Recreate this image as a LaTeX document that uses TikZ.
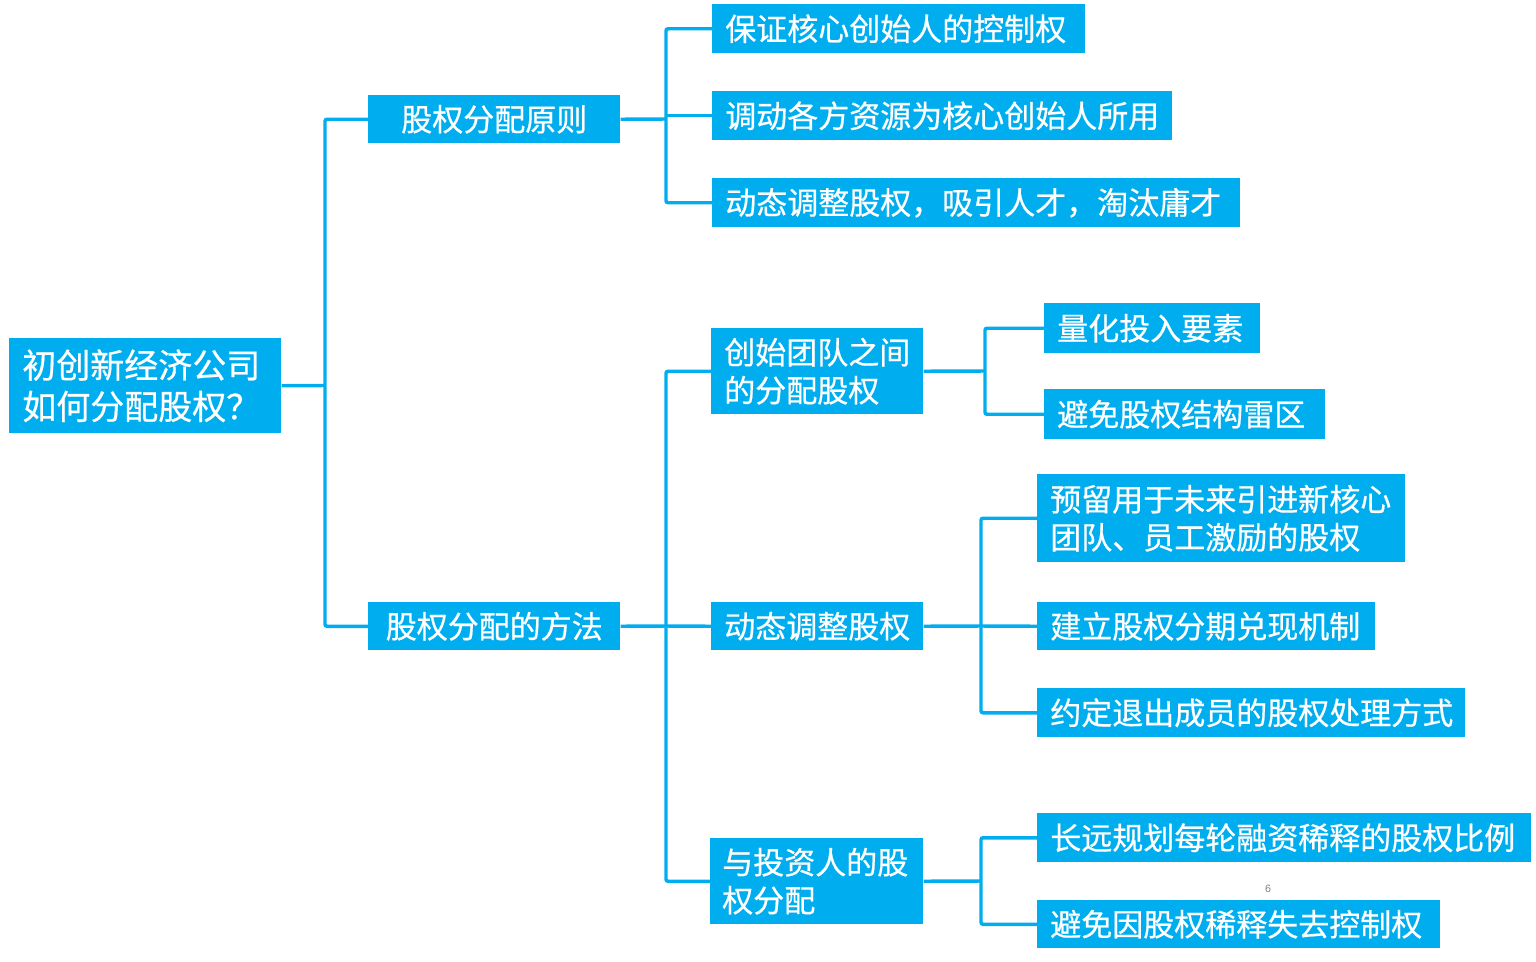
\documentclass[tikz,border=0pt]{standalone}
\usepackage{fontspec}
\setmainfont{Noto Sans CJK SC}[FakeBold=0.6]
\setsansfont{Liberation Sans}
\definecolor{cyanbox}{HTML}{00AEEF}
\newdimen\pxu
\pxu=0.75pt
\begin{document}
\begin{tikzpicture}[x=0.75pt,y=-0.75pt,
  box/.style={fill=cyanbox, text=white, inner xsep=13\pxu, inner ysep=0pt,
    anchor=north west, font=\fontsize{23.25}{28.5}\selectfont, align=left},
  conn/.style={draw=cyanbox, line width=2.6pt, rounded corners=1.5pt}]
\useasboundingbox (0,0) rectangle (1536,962);

% root
\node[box, text width=246\pxu, minimum height=95\pxu, font=\fontsize{25.5}{31}\selectfont] (root) at (9,338) {初创新经济公司\\如何分配股权？};

% level 1
\node[box, align=center, text width=226\pxu, minimum height=48\pxu] (p1) at (368,95) {股权分配原则};
\node[box, align=center, text width=226\pxu, minimum height=48\pxu] (p2) at (368,602) {股权分配的方法};

% level 2 under p1
\node[box, text width=347\pxu, minimum height=49\pxu] (a1) at (712,4) {保证核心创始人的控制权};
\node[box, text width=434\pxu, minimum height=49\pxu] (a2) at (712,91) {调动各方资源为核心创始人所用};
\node[box, text width=502\pxu, minimum height=49\pxu] (a3) at (712,178) {动态调整股权，吸引人才，淘汰庸才};

% level 2 under p2
\node[box, text width=186\pxu, minimum height=86\pxu] (b1) at (711,328) {创始团队之间\\的分配股权};
\node[box, text width=186\pxu, minimum height=48\pxu] (b2) at (711,602) {动态调整股权};
\node[box, inner xsep=12\pxu, text width=189\pxu, minimum height=86\pxu] (b3) at (710,838) {与投资人的股\\权分配};

% level 3
\node[box, text width=190\pxu, minimum height=50\pxu] (c1) at (1044,303) {量化投入要素};
\node[box, text width=255\pxu, minimum height=50\pxu] (c2) at (1044,389) {避免股权结构雷区};

\node[box, text width=342\pxu, minimum height=88\pxu] (d1) at (1037,474) {预留用于未来引进新核心\\团队、员工激励的股权};
\node[box, text width=312\pxu, minimum height=48\pxu] (d2) at (1037,602) {建立股权分期兑现机制};
\node[box, text width=402\pxu, minimum height=49\pxu] (d3) at (1037,688) {约定退出成员的股权处理方式};

\node[box, text width=468\pxu, minimum height=49\pxu] (e1) at (1037,813) {长远规划每轮融资稀释的股权比例};
\node[box, text width=377\pxu, minimum height=48\pxu] (e2) at (1037,900) {避免因股权稀释失去控制权};

% page number
\node[font=\sffamily\fontsize{8}{8}\selectfont, text=gray] (pg) at (1268,889) {6};

% junctions
\coordinate (j0) at (325,385.5);
\coordinate (j1) at (666,119);
\coordinate (j2) at (666,626);
\coordinate (j3) at (985,371);
\coordinate (j4) at (981,626);
\coordinate (j5) at (981,881);

% connectors
\draw[conn] (root.east) -- (j0);
\draw[conn] (p1.west) -| (j0) |- (p2.west);

\draw[conn] (p1.east) -- (j1);
\draw[conn] (a1.west) -| (j1) |- (a3.west);
\draw[conn] (j1 |- a2.west) -- (a2.west);

\draw[conn] (p2.east) -- (j2);
\draw[conn] (b1.west) -| (j2) |- (b3.west);
\draw[conn] (j2) -- (b2.west);

\draw[conn] (b1.east) -- (j3);
\draw[conn] (c1.west) -| (j3) |- (c2.west);

\draw[conn] (b2.east) -- (j4);
\draw[conn] (d1.west) -| (j4) |- (d3.west);
\draw[conn] (j4) -- (d2.west);

\draw[conn] (b3.east) -- (j5);
\draw[conn] (e1.west) -| (j5) |- (e2.west);
\end{tikzpicture}
\end{document}
